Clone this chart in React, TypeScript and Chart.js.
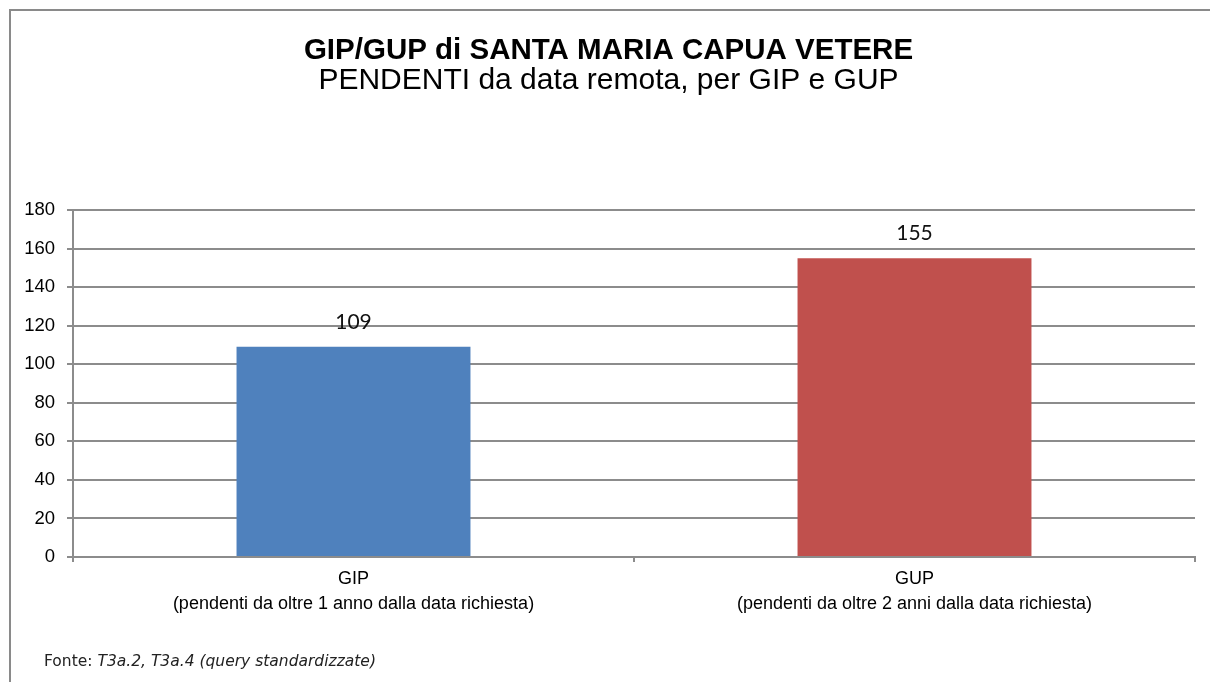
import React, { useEffect, useRef } from 'react';
import { Chart, registerables } from 'chart.js';

Chart.register(...registerables);

const titleText = 'GIP/GUP di SANTA MARIA CAPUA VETERE';
const subtitleText = 'PENDENTI da data remota, per GIP e GUP';
const categories = [
  ['GIP', '(pendenti da oltre 1 anno dalla data richiesta)'],
  ['GUP', '(pendenti da oltre 2 anni dalla data richiesta)'],
];
const values = [109, 155];
const barColors = ['#4F81BD', '#C0504D'];
const yMin = 0;
const yMax = 180;
const yStep = 20;
const sourceLabel = 'Fonte: ';
const sourceText = 'T3a.2, T3a.4 (query standardizzate)';

const CANVAS_LEFT = 12;
const CANVAS_W = 1185;
const CANVAS_H = 682;
const GRID = '#8c8c8c';

const valueLabels = {
  id: 'valueLabels',
  afterDatasetsDraw(chart: any) {
    const ctx = chart.ctx;
    const meta = chart.getDatasetMeta(0);
    ctx.save();
    ctx.font = '21px Lato';
    ctx.fillStyle = '#111';
    ctx.textAlign = 'center';
    ctx.textBaseline = 'alphabetic';
    meta.data.forEach((el: any, i: number) => {
      ctx.fillText(String(values[i]), el.x, el.y - 18);
    });
    ctx.restore();
  },
};

const footnote = {
  id: 'footnote',
  afterDraw(chart: any) {
    const ctx = chart.ctx;
    ctx.save();
    ctx.fillStyle = '#222';
    ctx.textBaseline = 'middle';
    ctx.textAlign = 'left';
    const x = 44 - CANVAS_LEFT;
    const y = 662;
    ctx.font = '15.5px "DejaVu Sans"';
    ctx.fillText(sourceLabel, x, y);
    const w = ctx.measureText(sourceLabel).width;
    ctx.font = 'italic 15.5px "DejaVu Sans"';
    ctx.fillText(sourceText, x + w, y);
    ctx.restore();
  },
};

export default function App() {
  const ref = useRef<HTMLCanvasElement | null>(null);

  useEffect(() => {
    if (!ref.current) return;
    const chart = new Chart(ref.current, {
      type: 'bar',
      data: {
        labels: categories,
        datasets: [
          {
            data: values,
            backgroundColor: barColors,
            borderWidth: 0,
            barPercentage: 0.417,
            categoryPercentage: 1,
          },
        ],
      },
      options: {
        animation: false,
        responsive: false,
        maintainAspectRatio: false,
        layout: { padding: { left: 10, right: 2, top: 10, bottom: 0 } },
        plugins: {
          legend: { display: false },
          tooltip: { enabled: false },
          title: {
            display: true,
            text: titleText,
            color: '#000',
            font: { family: '"Liberation Sans", Arial', size: 29.5, weight: 'bold', lineHeight: 1 },
            padding: { top: 26, bottom: 0 },
          },
          subtitle: {
            display: true,
            text: subtitleText,
            color: '#000',
            font: { family: '"Liberation Sans", Arial', size: 30, weight: 'normal', lineHeight: 1 },
            padding: { top: 0, bottom: 114.5 },
          },
        },
        scales: {
          x: {
            offset: true,
            grid: {
              display: true,
              drawOnChartArea: false,
              drawTicks: true,
              tickLength: 5,
              color: GRID,
              lineWidth: 2,
              offset: true,
            },
            border: { display: true, color: GRID, width: 2 },
            ticks: {
              color: '#000',
              padding: 5,
              maxRotation: 0,
              autoSkip: false,
              font: { family: '"Liberation Sans", Arial', size: 18, lineHeight: 1.39 },
            },
            afterFit(scale: any) {
              scale.height = 125;
            },
          },
          y: {
            min: yMin,
            max: yMax,
            grid: {
              color: GRID,
              lineWidth: 2,
              drawTicks: true,
              tickLength: 6,
            },
            border: { display: true, color: GRID, width: 2 },
            ticks: {
              stepSize: yStep,
              color: '#000',
              padding: 12,
              font: { family: '"Liberation Sans", Arial', size: 18.5 },
            },
            afterFit(scale: any) {
              scale.width = 51;
            },
          },
        },
      },
      plugins: [valueLabels, footnote],
    });
    return () => chart.destroy();
  }, []);

  return (
    <div
      style={{
        position: 'absolute',
        left: 0,
        top: 0,
        width: 1210,
        height: 682,
        overflow: 'hidden',
        background: '#fff',
      }}
    >
      <div
        style={{
          position: 'absolute',
          left: 9,
          top: 9,
          width: 1220,
          height: 700,
          borderLeft: '2px solid #8a8a8a',
          borderTop: '2px solid #8a8a8a',
        }}
      />
      <canvas
        ref={ref}
        width={CANVAS_W}
        height={CANVAS_H}
        style={{ position: 'absolute', left: CANVAS_LEFT, top: 0, width: CANVAS_W, height: CANVAS_H }}
      />
    </div>
  );
}
